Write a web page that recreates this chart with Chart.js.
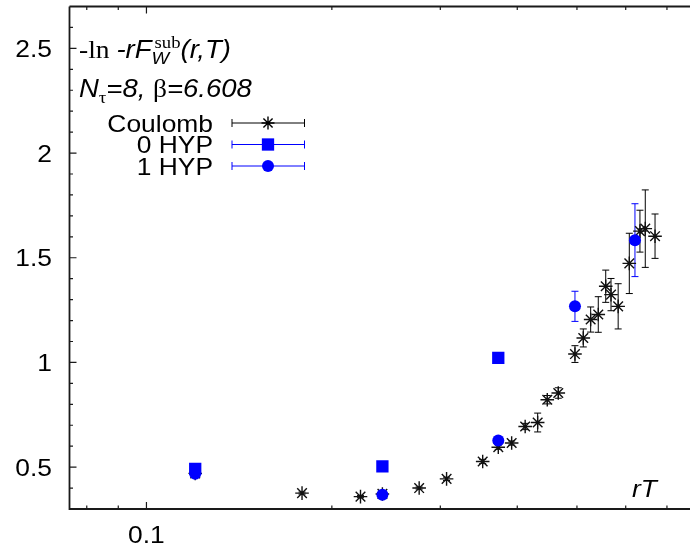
<!DOCTYPE html>
<html>
<head>
<meta charset="utf-8">
<script src="https://cdn.jsdelivr.net/npm/chart.js@4.4.0/dist/chart.umd.min.js"></script>
<style>
  html, body { margin: 0; padding: 0; background: #fff; }
  #wrap { width: 690px; height: 553px; }
</style>
</head>
<body>
<div id="wrap"><canvas id="wilson-chart" width="690" height="553"></canvas></div>
<script>
// values (x = rT, y = -ln -rF_W^sub)
const coulombRT  = [0.120, 0.1789, 0.2226, 0.2416, 0.2772, 0.3071, 0.3515, 0.3726, 0.3917, 0.412, 0.4317, 0.4475, 0.4663, 0.4963, 0.512, 0.5263, 0.5415, 0.5568, 0.5679, 0.5833, 0.6081, 0.6328, 0.6455, 0.6695];
const coulombVal = [0.470, 0.376, 0.359, 0.372, 0.400, 0.444, 0.527, 0.595, 0.615, 0.694, 0.713, 0.822, 0.854, 1.040, 1.117, 1.205, 1.229, 1.364, 1.324, 1.268, 1.473, 1.627, 1.639, 1.603];
const coulombErr = [0.005, 0.005, 0.005, 0.005, 0.005, 0.008, 0.010, 0.010, 0.010, 0.015, 0.045, 0.020, 0.025, 0.040, 0.043, 0.060, 0.085, 0.077, 0.077, 0.108, 0.144, 0.100, 0.185, 0.106];

const hyp0RT  = [0.120, 0.2416, 0.3726];
const hyp0Val = [0.492, 0.504, 1.022];
const hyp0Err = [0.005, 0.005, 0.010];

const hyp1RT  = [0.120, 0.2416, 0.3726, 0.4963, 0.6211];
const hyp1Val = [0.468, 0.368, 0.627, 1.268, 1.584];
const hyp1Err = [0.005, 0.005, 0.010, 0.072, 0.174];

const seriesNames = ['Coulomb', '0 HYP', '1 HYP'];

// axis ticks
const xMajorTicks = [0.1];
const xMinorTicks = [0.08, 0.09, 0.2, 0.3, 0.4, 0.5, 0.6, 0.7];
const xTickLabels = ['0.1'];
const yMajorTicks = [0.5, 1, 1.5, 2, 2.5];
const yMinorTicks = [0.4, 0.6, 0.7, 0.8, 0.9, 1.1, 1.2, 1.3, 1.4, 1.6, 1.7, 1.8, 1.9, 2.1, 2.2, 2.3, 2.4, 2.6];
const yTickLabels = ['0.5', '1', '1.5', '2', '2.5'];

const SANS = '"Liberation Sans", Arial, sans-serif';
const SERIF = '"Liberation Serif", "Times New Roman", serif';
const TEXT_SX = 1.1; // the original text is a bit wider than Helvetica
const BLUE = '#0000ff';

function toPoints(xs, ys) {
  return xs.map((x, i) => ({ x: x, y: ys[i] }));
}

// draws a list of text pieces one after another, stretched a little horizontally
// pieces marked "stack" share the same start (sub- and superscript)
function drawRuns(ctx, x, y, runs) {
  let cx = x;
  let pending = 0;
  runs.forEach(r => {
    if (!r.stack && pending > 0) {
      cx += pending;
      pending = 0;
    }
    ctx.save();
    ctx.font = r.font;
    ctx.textAlign = 'left';
    ctx.textBaseline = 'alphabetic';
    ctx.fillStyle = '#000';
    ctx.translate(cx + (r.dx || 0), y + (r.dy || 0));
    ctx.scale(TEXT_SX, 1);
    ctx.fillText(r.text, 0, 0);
    const w = ctx.measureText(r.text).width * TEXT_SX + (r.dx || 0);
    ctx.restore();
    if (r.stack) {
      pending = Math.max(pending, w);
    } else {
      cx += w;
    }
  });
  return cx;
}

function drawLabel(ctx, text, x, y, font, align) {
  ctx.save();
  ctx.font = font;
  ctx.textAlign = align;
  ctx.textBaseline = 'alphabetic';
  ctx.fillStyle = '#000';
  ctx.translate(x, y);
  ctx.scale(TEXT_SX, 1);
  ctx.fillText(text, 0, 0);
  ctx.restore();
}

const errorBars = {
  id: 'errorBars',
  beforeDatasetsDraw(chart) {
    const { ctx, scales: { x, y } } = chart;
    chart.data.datasets.forEach(ds => {
      ctx.save();
      ctx.strokeStyle = ds.errorColor;
      ctx.lineWidth = 1;
      ds.data.forEach((p, j) => {
        const px = x.getPixelForValue(p.x);
        const top = y.getPixelForValue(p.y + ds.errors[j]);
        const bot = y.getPixelForValue(p.y - ds.errors[j]);
        ctx.beginPath();
        ctx.moveTo(px, top);
        ctx.lineTo(px, bot);
        ctx.moveTo(px - 3.5, top);
        ctx.lineTo(px + 3.5, top);
        ctx.moveTo(px - 3.5, bot);
        ctx.lineTo(px + 3.5, bot);
        ctx.stroke();
      });
      ctx.restore();
    });
  }
};

const frame = {
  id: 'frame',
  afterDraw(chart) {
    const { ctx, chartArea: a, scales: { x, y } } = chart;
    ctx.save();
    ctx.strokeStyle = '#1a1a1a';
    ctx.lineWidth = 1.2;
    ctx.beginPath();
    const tickX = (v, len) => {
      const px = x.getPixelForValue(v);
      ctx.moveTo(px, a.bottom);
      ctx.lineTo(px, a.bottom - len);
      ctx.moveTo(px, a.top);
      ctx.lineTo(px, a.top + len);
    };
    const tickY = (v, len) => {
      const py = y.getPixelForValue(v);
      ctx.moveTo(a.left, py);
      ctx.lineTo(a.left + len, py);
    };
    xMajorTicks.forEach(v => tickX(v, 7));
    xMinorTicks.forEach(v => tickX(v, 3.5));
    yMajorTicks.forEach(v => tickY(v, 7));
    yMinorTicks.forEach(v => tickY(v, 3.5));
    ctx.stroke();

    ctx.lineWidth = 1.8;
    ctx.beginPath();
    ctx.moveTo(a.left, a.top);
    ctx.lineTo(a.left, a.bottom);
    ctx.lineTo(a.right, a.bottom);
    ctx.moveTo(a.left, a.top);
    ctx.lineTo(a.right, a.top);
    ctx.stroke();
    ctx.restore();

    // tick labels
    const tickFont = '24px ' + SANS;
    yMajorTicks.forEach((v, i) => {
      drawLabel(ctx, yTickLabels[i], a.left - 17.5, y.getPixelForValue(v) + 8.6, tickFont, 'right');
    });
    xMajorTicks.forEach((v, i) => {
      drawLabel(ctx, xTickLabels[i], x.getPixelForValue(v), a.bottom + 34, tickFont, 'center');
    });
    drawLabel(ctx, 'rT', 632, 497, 'italic 24px ' + SANS, 'left');
  }
};

const annotations = {
  id: 'annotations',
  afterDraw(chart) {
    const ctx = chart.ctx;
    const big = 25, small = 17;
    drawRuns(ctx, 79, 58, [
      { text: '-ln ', font: big + 'px ' + SERIF },
      { text: '-rF', font: 'italic ' + big + 'px ' + SANS },
      { text: 'W', font: 'italic ' + small + 'px ' + SANS, dy: 6, stack: true },
      { text: 'sub', font: small + 'px ' + SERIF, dy: -10, dx: 3, stack: true },
      { text: '(r,T)', font: 'italic ' + big + 'px ' + SANS }
    ]);
    drawRuns(ctx, 79, 97, [
      { text: 'N', font: 'italic ' + big + 'px ' + SANS },
      { text: 'τ', font: small + 'px ' + SERIF, dy: 6 },
      { text: '=8, ', font: 'italic ' + big + 'px ' + SANS },
      { text: 'β', font: big + 'px ' + SERIF },
      { text: '=6.608', font: 'italic ' + big + 'px ' + SANS }
    ]);

    // key
    const keyY = [123, 144.5, 166];
    const lineCol = ['#000', BLUE, BLUE];
    const x0 = 232, x1 = 304.5, xm = 268;
    seriesNames.forEach((name, i) => {
      drawLabel(ctx, name, 213, keyY[i] + 8.5, '24px ' + SANS, 'right');
      const yy = keyY[i];
      ctx.save();
      ctx.strokeStyle = lineCol[i];
      ctx.lineWidth = 1;
      ctx.beginPath();
      ctx.moveTo(x0, yy); ctx.lineTo(x1, yy);
      ctx.moveTo(x0, yy - 4); ctx.lineTo(x0, yy + 4);
      ctx.moveTo(x1, yy - 4); ctx.lineTo(x1, yy + 4);
      ctx.stroke();
      if (i === 0) {
        ctx.lineWidth = 1.4;
        ctx.beginPath();
        const r = 6.5, d = r * Math.SQRT1_2;
        ctx.moveTo(xm - r, yy); ctx.lineTo(xm + r, yy);
        ctx.moveTo(xm, yy - r); ctx.lineTo(xm, yy + r);
        ctx.moveTo(xm - d, yy - d); ctx.lineTo(xm + d, yy + d);
        ctx.moveTo(xm - d, yy + d); ctx.lineTo(xm + d, yy - d);
        ctx.stroke();
      } else if (i === 1) {
        ctx.fillStyle = BLUE;
        ctx.fillRect(xm - 6.15, yy - 6.15, 12.3, 12.3);
      } else {
        ctx.fillStyle = BLUE;
        ctx.beginPath();
        ctx.arc(xm, yy, 6, 0, Math.PI * 2);
        ctx.fill();
      }
      ctx.restore();
    });
  }
};

const ctx = document.getElementById('wilson-chart').getContext('2d');
new Chart(ctx, {
  type: 'scatter',
  data: {
    datasets: [
      {
        label: seriesNames[0],
        data: toPoints(coulombRT, coulombVal),
        errors: coulombErr,
        errorColor: '#000',
        pointStyle: 'star',
        pointRadius: 6.8,
        borderColor: '#111',
        backgroundColor: '#111',
        borderWidth: 1.4,
        order: 3
      },
      {
        label: seriesNames[1],
        data: toPoints(hyp0RT, hyp0Val),
        errors: hyp0Err,
        errorColor: BLUE,
        pointStyle: 'rect',
        pointRadius: 8.7,
        backgroundColor: BLUE,
        borderWidth: 0,
        order: 2
      },
      {
        label: seriesNames[2],
        data: toPoints(hyp1RT, hyp1Val),
        errors: hyp1Err,
        errorColor: BLUE,
        pointStyle: 'circle',
        pointRadius: 6,
        backgroundColor: BLUE,
        borderWidth: 0,
        order: 1
      }
    ]
  },
  options: {
    responsive: false,
    animation: false,
    layout: { autoPadding: false, padding: { top: 6.5, right: 0, bottom: 0, left: 0 } },
    plugins: {
      legend: { display: false },
      tooltip: { enabled: false }
    },
    scales: {
      x: {
        type: 'logarithmic',
        min: 0.075,
        max: 0.763,
        grid: { display: false },
        border: { display: false },
        ticks: { display: false },
        afterFit: s => { s.height = 44; }
      },
      y: {
        min: 0.3,
        max: 2.7,
        grid: { display: false },
        border: { display: false },
        ticks: { display: false },
        afterFit: s => { s.width = 69.5; }
      }
    }
  },
  plugins: [errorBars, frame, annotations]
});
</script>
</body>
</html>
